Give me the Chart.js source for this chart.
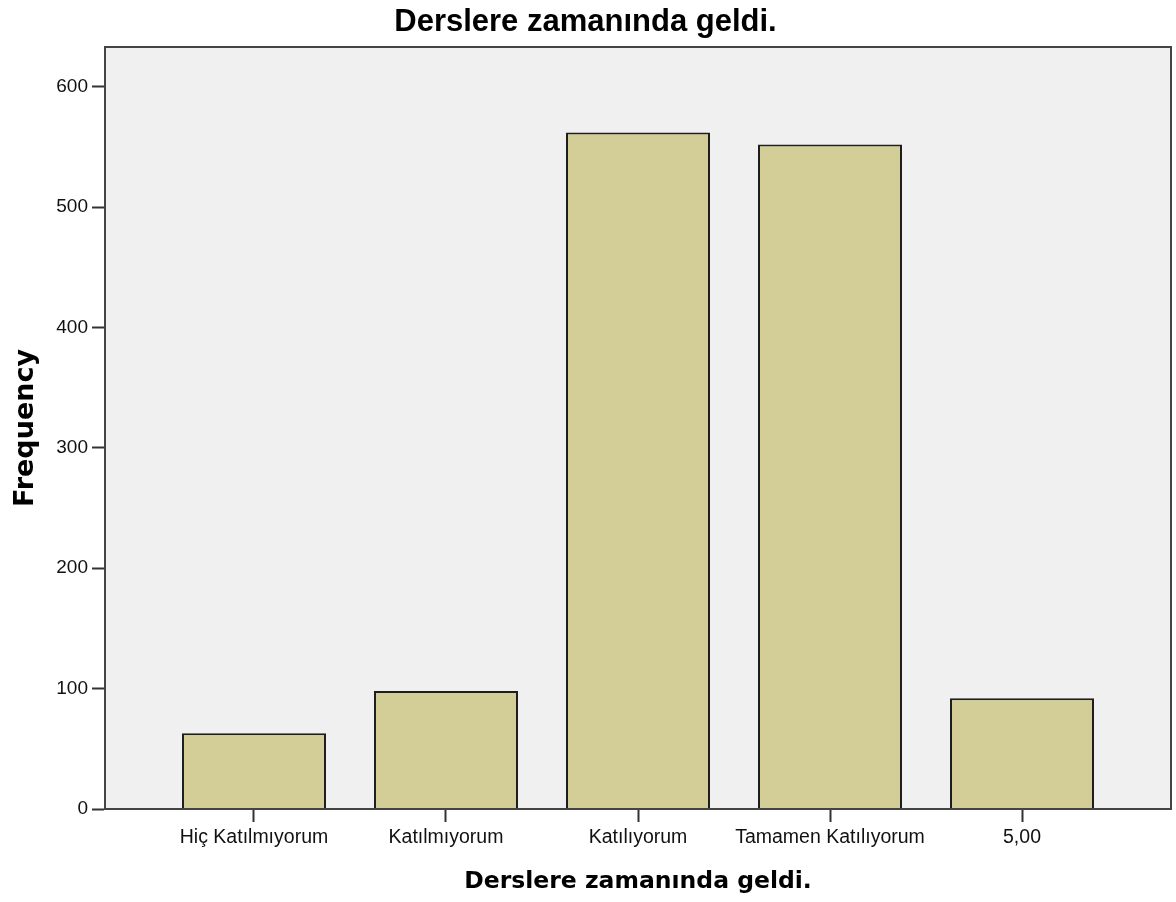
<!DOCTYPE html>
<html>
<head>
<meta charset="utf-8">
<script src="https://cdn.jsdelivr.net/npm/chart.js@4"></script>
<style>
  html, body { margin: 0; padding: 0; background: #fff; }
  #wrap { width: 1176px; height: 902px; }
</style>
</head>
<body>
<div id="wrap"><canvas id="freqChart" width="1176" height="902"></canvas></div>
<script>
const categories = ['Hiç Katılmıyorum', 'Katılmıyorum', 'Katılıyorum', 'Tamamen Katılıyorum', '5,00'];
const frequencies = [63, 98, 562, 552, 92];
const yTicks = [0, 100, 200, 300, 400, 500, 600];

const chartTitle = 'Derslere zamanında geldi.';
const xTitle = 'Derslere zamanında geldi.';
const yTitle = 'Frequency';

// plot background + frame
const plotFrame = {
    id: 'plotFrame',
    beforeDraw(chart) {
        const { ctx, chartArea: a } = chart;
        ctx.save();
        ctx.fillStyle = '#f0f0f0';
        ctx.fillRect(a.left, a.top, a.right - a.left, a.bottom - a.top);
        ctx.restore();
    },
    afterDraw(chart) {
        const { ctx, chartArea: a } = chart;
        ctx.save();
        ctx.strokeStyle = '#444';
        ctx.lineWidth = 2;
        ctx.strokeRect(a.left, a.top, a.right - a.left, a.bottom - a.top);
        ctx.restore();
    }
};

const ctx = document.getElementById('freqChart').getContext('2d');
const freqChart = new Chart(ctx, {
    type: 'bar',
    data: {
        datasets: [{
            label: yTitle,
            data: frequencies.map((v, i) => ({ x: i, y: v })),
            backgroundColor: '#d3ce97',
            borderColor: '#1e1e1e',
            borderWidth: 2,
            borderSkipped: 'bottom',
            categoryPercentage: 1,
            barPercentage: 0.75,
        }],
    },
    options: {
        responsive: false,
        animation: false,
        layout: { padding: { left: 0, right: 5, top: 0, bottom: 0 } },
        plugins: {
            legend: { display: false },
            tooltip: { enabled: false },
            title: {
                display: true,
                text: chartTitle,
                color: '#000',
                font: { family: 'Liberation Sans, Arial', size: 31, weight: 'bold' },
                padding: { top: 4, bottom: 5.8 },
            },
        },
        scales: {
            x: {
                type: 'linear',
                offset: false,
                min: -0.776,
                max: categories.length - 1 + 0.776,
                grid: { offset: false, drawOnChartArea: false, drawTicks: true, tickLength: 13, tickColor: '#333', tickWidth: 2 },
                border: { display: true, color: '#222', width: 2 },
                afterBuildTicks: scale => { scale.ticks = categories.map((c, i) => ({ value: i })); },
                afterFit: scale => { scale.height = 93; },
                ticks: {
                    autoSkip: false,
                    maxRotation: 0,
                    padding: 4,
                    color: '#111',
                    font: { family: 'Liberation Sans, Arial', size: 19.5 },
                    callback: v => categories[v] ?? '',
                },
                title: {
                    display: true,
                    text: xTitle,
                    color: '#000',
                    font: { family: 'DejaVu Sans', size: 23.5, weight: 'bold' },
                    padding: { top: 0, bottom: 6 },
                },
            },
            y: {
                min: 0,
                max: 633,
                grid: { drawOnChartArea: false, drawTicks: true, tickLength: 13, tickColor: '#333', tickWidth: 2 },
                border: { display: true, color: '#222', width: 2 },
                afterBuildTicks: scale => { scale.ticks = yTicks.map(v => ({ value: v })); },
                afterFit: scale => { scale.width = 105; },
                ticks: {
                    padding: 4,
                    color: '#111',
                    font: { family: 'Liberation Sans, Arial', size: 19 },
                },
                title: {
                    display: true,
                    text: yTitle,
                    color: '#000',
                    font: { family: 'DejaVu Sans', size: 27, weight: 'bold' },
                    padding: { top: 10, bottom: 0 },
                },
            },
        },
    },
    plugins: [plotFrame],
});
</script>
</body>
</html>
